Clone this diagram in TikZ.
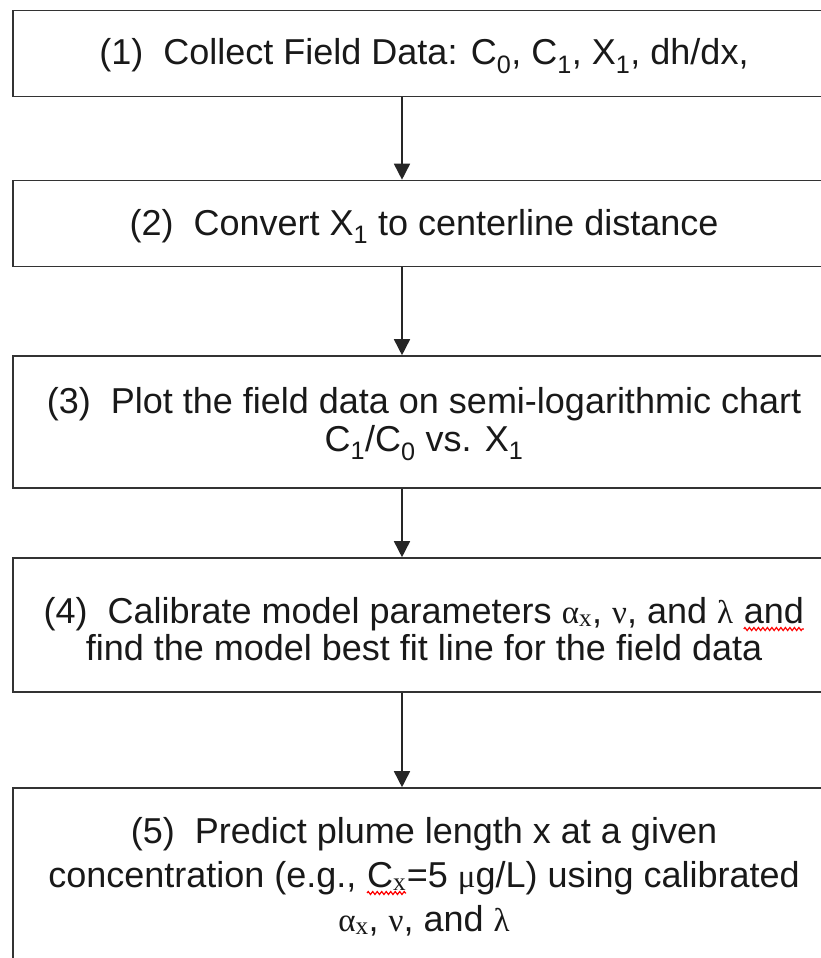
\documentclass[tikz,border=0pt]{standalone}
\usepackage{fontspec}
\setmainfont{Liberation Sans}
\newfontfamily\grkfont{Liberation Serif}
\usetikzlibrary{arrows.meta,decorations.pathmorphing}
\newcommand\gk[1]{{\grkfont\fontsize{33}{33}\selectfont #1}}
\newcommand\subx{\textsubscript{\grkfont x}}
\newcommand\squig[1]{\tikz[baseline=(sq.base)]{\node[inner sep=0pt,outer sep=0pt,anchor=base,draw=none,font=](sq){#1};\draw[red,line width=1.2pt,decorate,decoration={zigzag,amplitude=1.5pt,segment length=4.5pt}]([yshift=-6pt]sq.base west)--([yshift=-6pt]sq.base east);}}
\tikzset{
  box/.style={draw=black!80,line width=1.6pt,rectangle,minimum width=822pt,inner sep=0pt},
  txt/.style={anchor=base,align=center,inner sep=0pt,text=black!90},
  arr/.style={draw=black!85,line width=1.6pt,-{Triangle[width=16pt,length=16pt]}}
}
\begin{document}
\begin{tikzpicture}[x=1pt,y=-1pt]
\useasboundingbox (0,0) rectangle (821,958);
\fill[white] (0,0) rectangle (821,958);
\clip (0,0) rectangle (821,958);
\coordinate (ax) at (402,0);
\node[box,minimum height=86pt] (b1) at (424,53.5) {};
\node[box,minimum height=86pt] (b2) at (424,223.5) {};
\node[box,minimum height=132pt] (b3) at (424,422) {};
\node[box,minimum height=134pt] (b4) at (424,625) {};
\node[box,minimum height=174pt] (b5) at (424,875) {};
\node[txt,font=\fontsize{36}{37}\selectfont] (t1) at (424,64.5) {(1)~~Collect Field Data: C\textsubscript{0}, C\textsubscript{1}, X\textsubscript{1}, dh/dx,};
\node[txt,font=\fontsize{36}{37}\selectfont] (t2) at (424,235) {(2)~~Convert X\textsubscript{1} to centerline distance};
\node[txt,font=\fontsize{36}{38}\selectfont] (t3) at (424,451) {(3)~~Plot the field data on semi-logarithmic chart\\C\textsubscript{1}/C\textsubscript{0} vs. X\textsubscript{1}};
\node[txt,font=\fontsize{36}{37}\selectfont] (t4) at (424,660) {(4)~~Calibrate model parameters \gk{α}\subx, \gk{ν}, and \gk{λ} \squig{and}\\find the model best fit line for the field data};
\node[txt,font=\fontsize{36}{44}\selectfont] (t5) at (424,931) {(5)~~Predict plume length x at a given\\concentration (e.g., \squig{C\subx}=5 \gk{μ}g/L) using calibrated\\\gk{α}\subx, \gk{ν}, and \gk{λ}};
\draw[arr] (b1.south -| ax) -- (b2.north -| ax);
\draw[arr] (b2.south -| ax) -- (b3.north -| ax);
\draw[arr] (b3.south -| ax) -- (b4.north -| ax);
\draw[arr] (b4.south -| ax) -- (b5.north -| ax);
\end{tikzpicture}
\end{document}
